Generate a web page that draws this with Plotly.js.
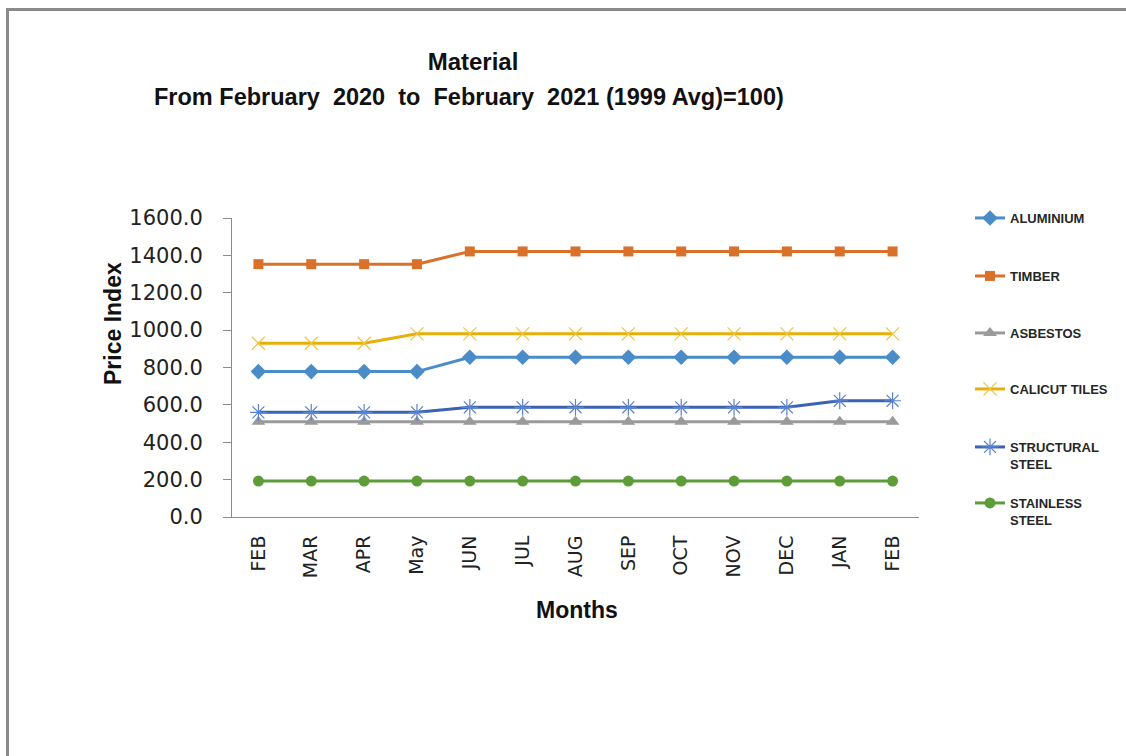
<!DOCTYPE html>
<html>
<head>
<meta charset="utf-8">
<script src="https://cdn.plot.ly/plotly-3.0.1.min.js"></script>
<style>
  html, body { margin: 0; padding: 0; background: #ffffff; overflow: hidden; }
  #chart { width: 1126px; height: 756px; }
</style>
</head>
<body>
<div id="chart"></div>
<script>
// ---- data ----
const months = ['FEB','MAR','APR','May','JUN','JUL','AUG','SEP','OCT','NOV','DEC','JAN','FEB'];
const aluminium   = [778,778,778,778,855,855,855,855,855,855,855,855,855];
const timber      = [1353,1353,1353,1353,1421,1421,1421,1421,1421,1421,1421,1421,1421];
const asbestos    = [510,510,510,510,510,510,510,510,510,510,510,510,510];
const calicut     = [930,930,930,980,980,980,980,980,980,980,980,980,980];
const structural  = [560,560,560,560,587,587,587,587,587,587,587,622,622];
const stainless   = [192,192,192,192,192,192,192,192,192,192,192,192,192];
const seriesNames = ['ALUMINIUM','TIMBER','ASBESTOS','CALICUT TILES','STRUCTURAL<br>STEEL','STAINLESS<br>STEEL'];

// ---- layout geometry (pixels) ----
const W = 1126, H = 756;
const plotL = 232, plotR = 919, plotT = 218, plotB = 517;
const px = x => (x - plotL) / (plotR - plotL);
const py = y => (plotB - y) / (plotB - plotT);

const idx = months.map((_, i) => i);

const styles = [
  {line: '#4A8CC8', marker: {symbol: 'diamond', size: 12, color: '#4A8CC8'}},
  {line: '#D9712B', marker: {symbol: 'square', size: 10, color: '#D9712B'}},
  {line: '#9A9A9A', marker: {symbol: 'triangle-up', size: 12, color: '#9A9A9A'}},
  {line: '#E6B00A', marker: {symbol: 'x-thin-open', size: 13, color: '#F2C242', line: {width: 1.2, color: '#F2C242'}}},
  {line: '#3A62B5', marker: {symbol: 'asterisk-open', size: 14, color: '#5B82D0', line: {width: 1.2, color: '#5B82D0'}}},
  {line: '#5E9C3A', marker: {symbol: 'circle', size: 11, color: '#5E9C3A'}}
];
const values = [aluminium, timber, asbestos, calicut, structural, stainless];
const legendIds = ['legend','legend2','legend3','legend4','legend5','legend6'];
const legendY = [203, 261, 318, 374, 432, 488];

const traces = values.map((v, i) => ({
  type: 'scatter', mode: 'lines+markers',
  x: idx, y: v, name: seriesNames[i],
  line: {color: styles[i].line, width: 3},
  marker: styles[i].marker,
  legend: legendIds[i],
  cliponaxis: false
}));

const legendFont = {family: 'Liberation Sans, Arial, sans-serif', size: 13, color: '#262626', weight: 'bold'};
const layout = {
  width: W, height: H,
  margin: {l: plotL, r: W - plotR, t: plotT, b: H - plotB, pad: 0},
  paper_bgcolor: '#ffffff', plot_bgcolor: '#ffffff',
  showlegend: true,
  title: {
    text: '<b>Material</b>',
    font: {family: 'Liberation Sans, Arial, sans-serif', size: 24, color: '#111'},
    x: 473 / W, xanchor: 'center', xref: 'container',
    y: 1 - 62 / H, yanchor: 'middle', yref: 'container'
  },
  xaxis: {
    range: [-0.5, 12.5], tickvals: idx, ticktext: months, tickangle: -90,
    showgrid: false, zeroline: false, showline: true, linecolor: '#8C8C8C', linewidth: 1,
    ticks: '', tickfont: {family: 'DejaVu Sans, sans-serif', size: 19, color: '#222'},
    ticklabelstandoff: 10, fixedrange: true
  },
  yaxis: {
    range: [0, 1600], dtick: 200, tick0: 0, tickformat: '.1f',
    showgrid: false, zeroline: false, showline: true, linecolor: '#8C8C8C', linewidth: 1,
    ticks: 'outside', ticklen: 8, tickcolor: '#8C8C8C',
    tickfont: {family: 'DejaVu Sans, sans-serif', size: 21, color: '#222'},
    ticklabelstandoff: 16, fixedrange: true
  },
  annotations: [
    {text: '<b>From February\u00A0\u00A02020\u00A0\u00A0to\u00A0\u00A0February\u00A0\u00A02021 (1999 Avg)=100)</b>',
     xref: 'paper', yref: 'paper', x: px(469), y: py(97), xanchor: 'center', yanchor: 'middle',
     showarrow: false, font: {family: 'Liberation Sans, Arial, sans-serif', size: 23.5, color: '#111'}},
    {text: '<b>Price Index</b>', textangle: -90,
     xref: 'paper', yref: 'paper', x: px(113), y: py(324), xanchor: 'center', yanchor: 'middle',
     showarrow: false, font: {family: 'Liberation Sans, Arial, sans-serif', size: 23, color: '#111'}},
    {text: '<b>Months</b>',
     xref: 'paper', yref: 'paper', x: px(577), y: py(610), xanchor: 'center', yanchor: 'middle',
     showarrow: false, font: {family: 'Liberation Sans, Arial, sans-serif', size: 23, color: '#111'}}
  ],
  shapes: [
    {type: 'path', xref: 'paper', yref: 'paper',
     path: 'M' + px(7.5) + ',' + py(H + 5) + ' L' + px(7.5) + ',' + py(9.5) + ' L' + px(W + 5) + ',' + py(9.5),
     line: {color: '#8A8A8A', width: 3}}
  ]
};
legendIds.forEach((id, i) => {
  layout[id] = {
    x: px(970), xanchor: 'left', y: py(legendY[i]), yanchor: 'top',
    bgcolor: 'rgba(0,0,0,0)', borderwidth: 0, font: legendFont, valign: 'top',
    orientation: 'v'
  };
});

Plotly.newPlot('chart', traces, layout, {displayModeBar: false, staticPlot: true});
</script>
</body>
</html>
